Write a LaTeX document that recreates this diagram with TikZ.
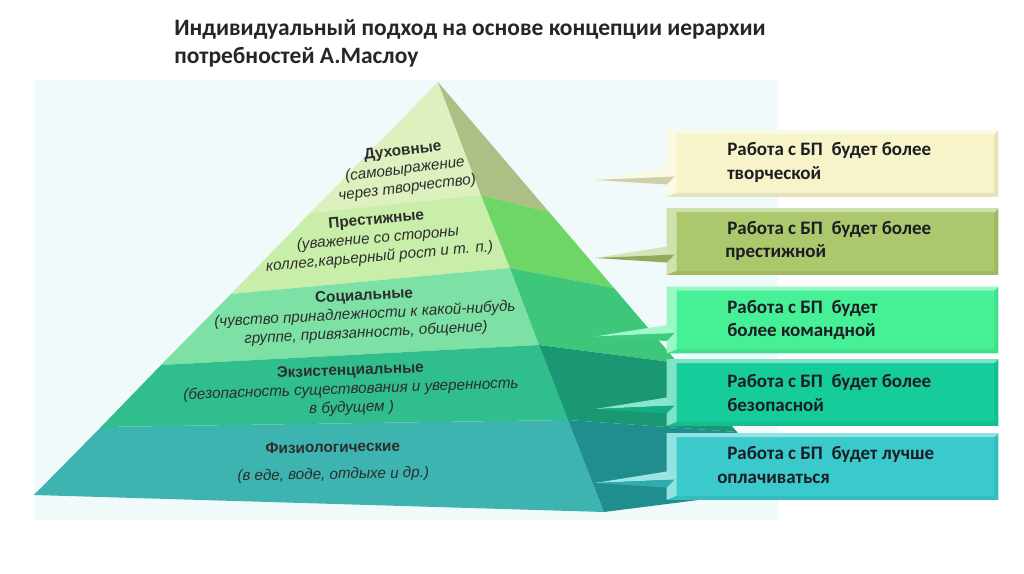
\documentclass[tikz,border=0pt]{standalone}
\usepackage{fontspec}
\setmainfont{Liberation Sans}
\newfontfamily\mgboxfont{Carlito}
\usepackage{xcolor}
\usepackage{tikz}
\usetikzlibrary{calc}
\definecolor{mgpanel}{RGB}{241,250,251}
\definecolor{mgfront1}{RGB}{222,240,190}
\definecolor{mgfront2}{RGB}{200,238,170}
\definecolor{mgfront3}{RGB}{125,225,165}
\definecolor{mgfront4}{RGB}{48,190,140}
\definecolor{mgfront5}{RGB}{62,180,176}
\definecolor{mgside1}{RGB}{172,192,134}
\definecolor{mgside2}{RGB}{110,214,102}
\definecolor{mgside3}{RGB}{62,198,122}
\definecolor{mgside4}{RGB}{26,152,116}
\definecolor{mgside5}{RGB}{32,142,142}
\definecolor{mgbox1}{RGB}{246,244,200}
\definecolor{mgbox2}{RGB}{172,200,108}
\definecolor{mgbox3}{RGB}{70,240,150}
\definecolor{mgbox4}{RGB}{22,204,154}
\definecolor{mgbox5}{RGB}{58,202,204}
\definecolor{mgink}{RGB}{28,28,36}
\definecolor{mgtitle}{RGB}{38,38,38}
\definecolor{mgtext}{RGB}{45,45,45}
\newcommand{\lvlhead}[1]{{\upshape\bfseries\fontsize{11.5}{14}\selectfont #1}}

\begin{document}
\begin{tikzpicture}[x=0.75pt,y=-0.75pt,
  lvlnode/.style={align=center,text=mgtext,inner sep=0pt,
    font=\fontsize{11.4}{14}\selectfont\itshape},
  needbox/.style={minimum width=248.25pt,minimum height=49.5pt,inner sep=0pt},
  needtext/.style={anchor=west,align=left,text=mgink,inner sep=0pt,
    font=\mgboxfont\bfseries\fontsize{14.25}{17.5}\selectfont}]

\useasboundingbox (0,0) rectangle (1024,574);
\fill[white] (0,0) rectangle (1024,574);
\fill[mgpanel] (34,80) rectangle (778,520);

\node[anchor=north west,align=left,inner sep=0pt,text=mgtitle,
  font=\mgboxfont\bfseries\fontsize{17.6}{21}\selectfont]
  (title) at (174,19)
  {Индивидуальный подход на основе концепции иерархии\\потребностей А.Маслоу};

\fill[mgfront1] (438,82) -- (310,213) -- (481,195) -- cycle;
\fill[mgfront2] (310,213) -- (231,294) -- (510,268) -- (481,195) -- cycle;
\fill[mgfront3] (231,294) -- (161,365) -- (539,345) -- (510,268) -- cycle;
\fill[mgfront4] (161,365) -- (101,427) -- (568,420) -- (539,345) -- cycle;
\fill[mgfront5] (101,427) -- (34,495) -- (604,512) -- (568,420) -- cycle;

\fill[mgside1] (438,82) -- (481,195) -- (549,212) -- cycle;
\fill[mgside2] (481,195) -- (510,268) -- (614,288) -- (549,212) -- cycle;
\fill[mgside3] (510,268) -- (539,345) -- (678,363) -- (614,288) -- cycle;
\fill[mgside4] (539,345) -- (568,420) -- (737,432) -- (678,363) -- cycle;
\fill[mgside5] (568,420) -- (604,512) -- (785,489) -- (737,432) -- cycle;

\node[lvlnode,rotate=7] (l1) at (405,170)
  {\lvlhead{Духовные}\\(самовыражение\\через творчество)};
\node[lvlnode,rotate=5] (l2) at (378,239)
  {\lvlhead{Престижные}\\(уважение со стороны\\коллег,карьерный рост и т. п.)};
\node[lvlnode,rotate=3] (l3) at (365,315)
  {\lvlhead{Социальные}\\(чувство принадлежности к какой-нибудь\\группе, привязанность, общение)};
\node[lvlnode,rotate=2] (l4) at (351,390)
  {\lvlhead{Экзистенциальные}\\(безопасность существования и уверенность\\в будущем )};
\node[lvlnode,rotate=1] (l5) at (333,462)
  {\lvlhead{Физиологические}\\[6pt](в еде, воде, отдыхе и др.)};

\foreach \i/\y in {1/163.5,2/241.5,3/320,4/392.5,5/466.5} {
  \node[needbox,fill=mgbox\i] (b\i) at (832.5,\y) {};
  \fill[mgbox\i!93!black] (b\i.south west) -- (b\i.south east) -- (b\i.north east)
    -- ($(b\i.north east)+(-4,4)$) -- ($(b\i.south east)+(-4,-4)$)
    -- ($(b\i.south west)+(10,-4)$) -- cycle;
  \fill[mgbox\i!55!white] (b\i.north west) -- (b\i.north east)
    -- ($(b\i.north east)+(-4,4)$) -- ($(b\i.north west)+(10,4)$)
    -- ($(b\i.south west)+(10,-4)$) -- (b\i.south west) -- cycle;
  \coordinate (t\i) at (595,\y+16.5);
  \fill[mgbox\i!50!white] (t\i) -- ($(b\i.west)+(0,5)$) -- ($(b\i.west)+(8,13)$) -- cycle;
  \fill[mgbox\i!85!black] (t\i) -- ($(b\i.west)+(8,13)$) -- ($(b\i.west)+(0,21)$) -- cycle;
}

\node[needtext] (n1) at (727,162.5)
  {Работа с БП\ \ будет более\\творческой};
\node[needtext] (n2) at (725,241)
  {\hspace*{1.5pt}Работа с БП\ \ будет более\\престижной};
\node[needtext] (n3) at (727,320)
  {Работа с БП\ \ будет\\более командной};
\node[needtext] (n4) at (727,393)
  {Работа с БП\ \ будет более\\безопасной};
\node[needtext] (n5) at (717,465)
  {\hspace*{7.5pt}Работа с БП\ \ будет лучше\\оплачиваться};

\end{tikzpicture}
\end{document}
